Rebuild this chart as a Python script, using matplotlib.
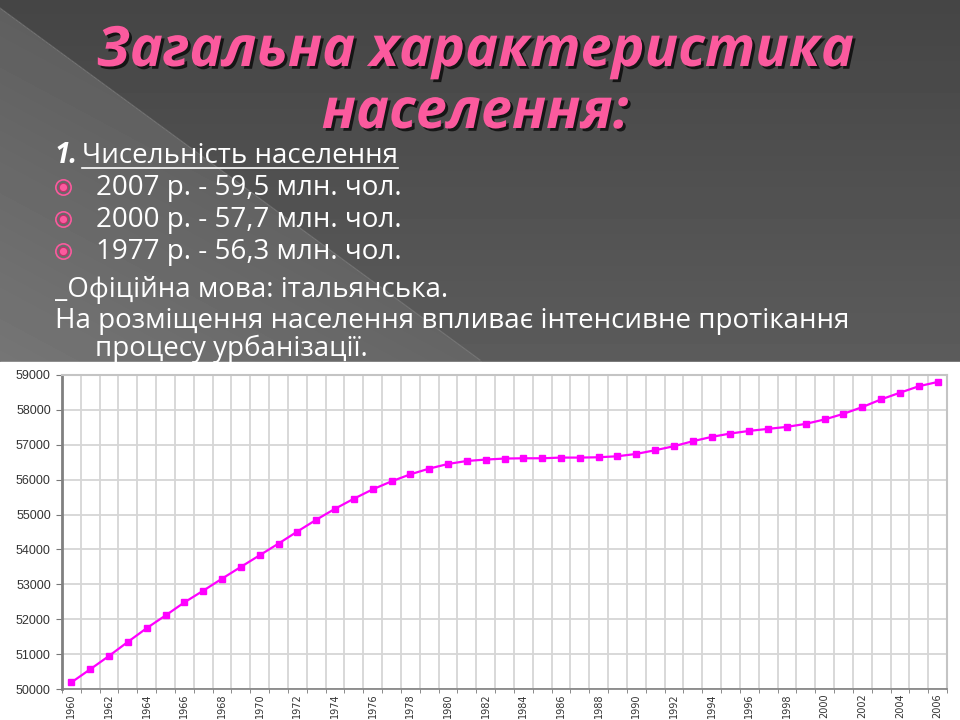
import matplotlib
matplotlib.use("Agg")
import matplotlib.pyplot as plt
import matplotlib.patheffects as pe
from matplotlib.patches import Rectangle
import numpy as np

# population of Italy, thousands
years = list(range(1960, 2007))
population = [50190, 50566, 50949, 51351, 51745, 52108, 52483, 52818, 53163, 53500,
              53834, 54169, 54514, 54850, 55166, 55454, 55722, 55952, 56153, 56317,
              56450, 56536, 56576, 56605, 56613, 56613, 56633, 56633, 56642, 56671,
              56738, 56844, 56959, 57102, 57226, 57323, 57398, 57456, 57513, 57600,
              57726, 57887, 58080, 58301, 58492, 58677, 58800]
y_ticks = list(range(50000, 59001, 1000))

title_lines = ["Загальна характеристика", "населення:"]
heading_num = "1."
heading = "Чисельність населення"
bullets = ["2007 р. - 59,5 млн. чол.",
           "2000 р. - 57,7 млн. чол.",
           "1977 р. - 56,3 млн. чол."]
language_line = "Офіційна мова: італьянська."
urban_lines = ["На розміщення населення впливає інтенсивне протікання",
               "процесу урбанізації."]

PINK = "#fb5a9e"
FONT = ["Open Sans", "DejaVu Sans"]

fig = plt.figure(figsize=(9.6, 7.2), dpi=100)

# slide background in pixel coordinates
bg = fig.add_axes([0, 0, 1, 1])
bg.set_xlim(0, 960)
bg.set_ylim(720, 0)
bg.axis("off")

yy, xx = np.mgrid[0:362, 0:960]
shade = 0.27 + 0.09 * yy / 362
tri = yy > 8 + xx * (352 / 480)
shade = shade + tri * (0.08 * (1 - xx / 600) + 0.02)
bg.imshow(shade, cmap="gray", vmin=0, vmax=1, extent=(0, 960, 362, 0),
          aspect="auto", interpolation="bilinear")
bg.plot([0, 480], [8, 360], color="#8a8a8a", lw=0.8, alpha=0.5)
bg.add_patch(Rectangle((0, 362), 960, 358, color="white", zorder=2))

shadow = [pe.withSimplePatchShadow(offset=(2, -2), shadow_rgbFace="black", alpha=0.7)]
bg.text(475, 66, title_lines[0], ha="center", va="baseline", fontsize=40,
        fontweight="bold", style="italic", color=PINK, family=FONT, path_effects=shadow)
bg.text(475, 128, title_lines[1], ha="center", va="baseline", fontsize=40,
        fontweight="bold", style="italic", color=PINK, family=FONT, path_effects=shadow)

text_kw = dict(va="baseline", color="white", family=FONT)
bg.text(55, 163, heading_num, fontsize=20, fontweight="bold", style="italic", **text_kw)
head = bg.text(82, 163, heading, fontsize=20, **text_kw)

for i, line in enumerate(bullets):
    yb = 195 + i * 32
    bg.text(96, yb, line, fontsize=20, **text_kw)
    bg.plot(63, yb - 8, marker="o", ms=11, mfc="none", mec=PINK, mew=1.2)
    bg.plot(63, yb - 8, marker="o", ms=6, mfc=PINK, mec="#c0306a", mew=0.8)

bg.text(55, 297, "_" + language_line, fontsize=20, **text_kw)
bg.text(55, 328, urban_lines[0], fontsize=20, **text_kw)
bg.text(95, 356, urban_lines[1], fontsize=20, **text_kw)

# underline the heading
fig.canvas.draw()
bb = head.get_window_extent().transformed(bg.transData.inverted())
bg.plot([bb.x0, bb.x1], [168, 168], color="white", lw=1.2)

# chart
ax = fig.add_axes([62 / 960, 31 / 720, 885 / 960, 314 / 720], zorder=3)
x = np.arange(len(years))
ax.plot(x, population, color="#ff00ff", lw=1.6, marker="s", ms=4.8, zorder=3)
ax.set_xlim(-0.5, len(years) - 0.5)
ax.set_ylim(y_ticks[0], y_ticks[-1])
ax.set_yticks(y_ticks)
ax.set_yticklabels([str(v) for v in y_ticks])
ax.set_xticks(x[::2])
ax.set_xticklabels([str(y) for y in years[::2]], rotation=90)
ax.set_xticks(np.arange(-0.5, len(years)), minor=True)
ax.grid(axis="x", which="minor", color="#d6d6d6", lw=1.3)
ax.grid(axis="y", which="major", color="#d6d6d6", lw=1.3)
ax.set_axisbelow(True)

ax.tick_params(axis="x", which="major", length=0, pad=3, labelsize=7, labelcolor="#333333")
ax.tick_params(axis="x", which="minor", length=3, color="#777777")
ax.tick_params(axis="y", length=4, color="#777777", labelsize=9, labelcolor="#333333", pad=4)
for lab in ax.get_xticklabels():
    lab.set_family(["Liberation Sans Narrow", "DejaVu Sans"])
for lab in ax.get_yticklabels():
    lab.set_family(["Liberation Sans", "DejaVu Sans"])

ax.spines["left"].set_color("#808080")
ax.spines["left"].set_linewidth(2)
ax.spines["bottom"].set_color("#808080")
ax.spines["bottom"].set_linewidth(1.2)
for side in ("top", "right"):
    ax.spines[side].set_color("#c4c4c4")
    ax.spines[side].set_linewidth(1.5)

fig.savefig("out.png", dpi=100)
